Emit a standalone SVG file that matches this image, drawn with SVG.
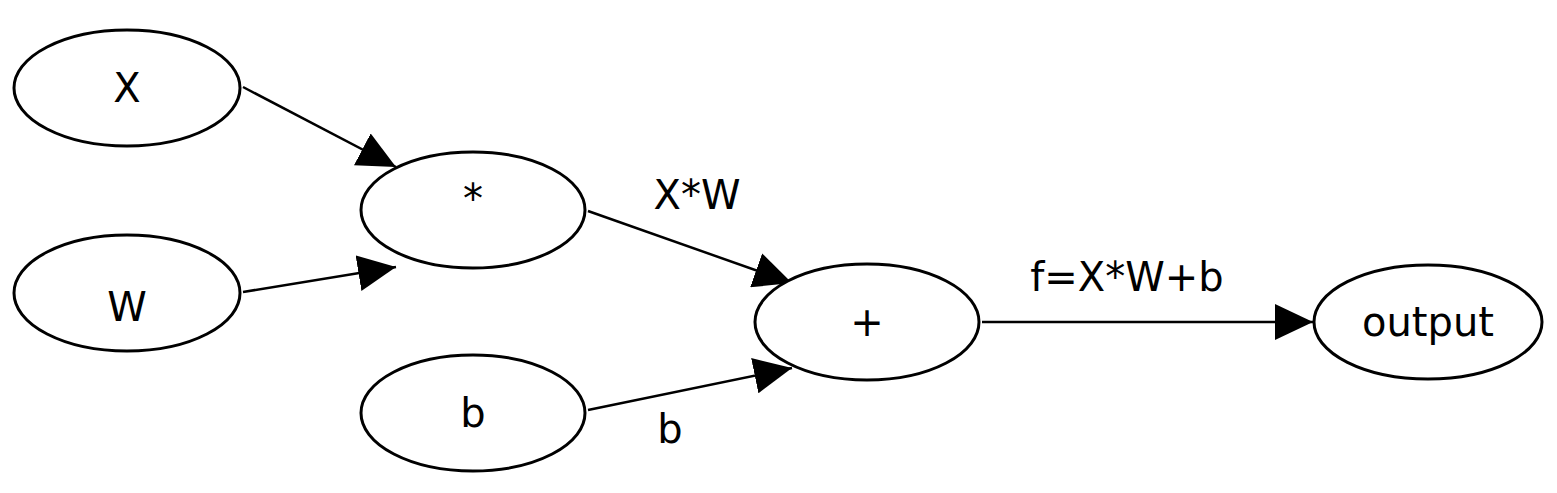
<svg xmlns="http://www.w3.org/2000/svg" width="1557" height="493" viewBox="0 0 1557 493">
<style>
.n{fill:#fff;stroke:#000;stroke-width:3}
.t{font-family:"DejaVu Sans",sans-serif;font-size:40px;text-anchor:middle;fill:#000}
.e{stroke:#000;stroke-width:2.5;fill:none;marker-end:url(#a)}
</style>
<defs><marker id="a" markerUnits="userSpaceOnUse" markerWidth="40" markerHeight="36" refX="38" refY="18" orient="auto"><path d="M0,0 L38,18 L0,36 Z" fill="#000"/></marker></defs>
<rect width="1557" height="493" fill="#fff"/>
<g id="connectors">
<path class="e" d="M243,87 L396,167"/>
<path class="e" d="M243,292 L396,267"/>
<path class="e" d="M588,211 L792,283"/>
<path class="e" d="M588,410 L792,368"/>
<path class="e" d="M982,322 L1313,322"/>
<text class="t" x="697" y="209">X*W</text>
<text class="t" x="670" y="443">b</text>
<text class="t" x="1127" y="291">f=X*W+b</text>
</g>
<g id="X"><ellipse class="n" cx="127" cy="88" rx="113" ry="58"/><text class="t" x="127" y="102">X</text></g>
<g id="W"><ellipse class="n" cx="127" cy="293" rx="113" ry="58"/><text class="t" x="127" y="321">W</text></g>
<g id="mul"><ellipse class="n" cx="473" cy="210" rx="112" ry="58"/><text class="t" x="473" y="213">*</text></g>
<g id="b"><ellipse class="n" cx="473" cy="413" rx="112" ry="58"/><text class="t" x="473" y="427">b</text></g>
<g id="plus"><ellipse class="n" cx="867" cy="322" rx="112" ry="58"/><text class="t" x="867" y="336">+</text></g>
<g id="output"><ellipse class="n" cx="1428" cy="322" rx="114" ry="57"/><text class="t" x="1428" y="336">output</text></g>
</svg>
